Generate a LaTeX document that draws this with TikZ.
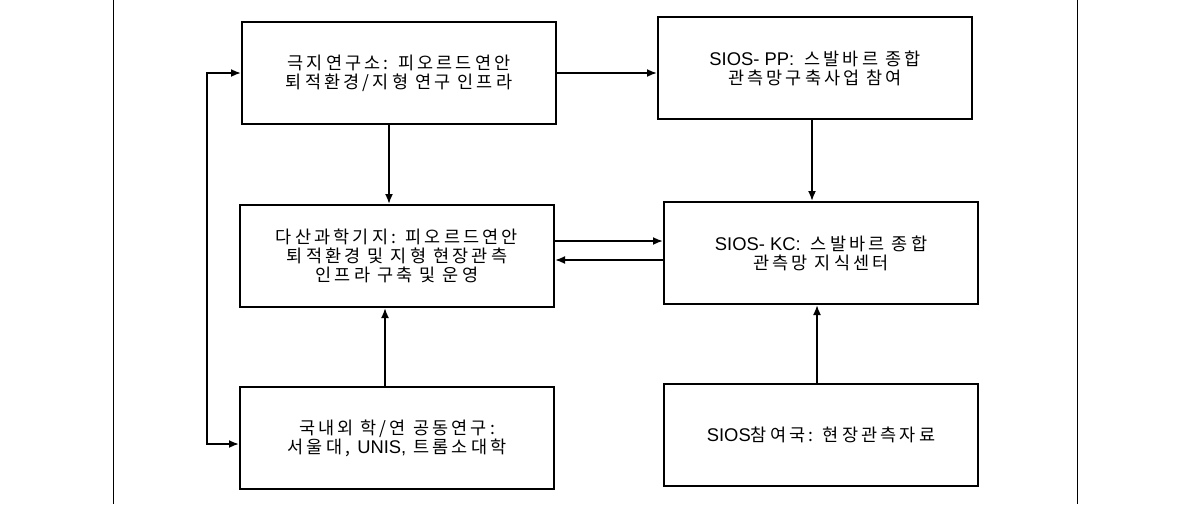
\documentclass[tikz,border=0pt]{standalone}
\usepackage{fontspec}
\setmainfont{Noto Sans CJK KR}[LetterSpace=18]
\newfontfamily\latn{Liberation Sans}[Scale=1.05]
\usetikzlibrary{arrows.meta}
\newcommand\tightskip{\lineskiplimit=-20pt\relax}
\begin{document}
\begin{tikzpicture}[x=1pt,y=-1pt,
		boxnode/.style={draw, line width=2pt, minimum width=314pt, minimum height=102pt, align=center, inner sep=0pt, font=\fontsize{17.5}{19}\selectfont\tightskip},
		link/.style={line width=1.8pt, -{Latex[length=10pt,width=8pt]}}]
		\useasboundingbox (0,0) rectangle (1190,504);
		% Rahmen
		\draw [line width=0.8pt] (113,0) -- (113,504);
		\draw [line width=0.8pt] (1077,0) -- (1077,504);
		% linke Spalte
		\node [boxnode] (kopri) at (399,73) {극지연구소: 피오르드연안\\퇴적환경/지형 연구 인프라};
		\node [boxnode] (dasan) at (397,256) {다산과학기지: 피오르드연안\\퇴적환경 및 지형 현장관측\\인프라 구축 및 운영};
		\node [boxnode] (univ) at (397,438) {국내외 학/연 공동연구:\\서울대, {\latn UNIS,} 트롬소대학};
		% rechte Spalte
		\node [boxnode] (siospp) at (815,68) {{\latn SIOS- PP:\ \ }스발바르 종합\\관측망구축사업 참여};
		\node [boxnode] (sioskc) at (821,253) {{\latn SIOS- KC:\ \ }스발바르 종합\\관측망 지식센터};
		\node [boxnode] (member) at (821,435) {{\latn SIOS}참여국: 현장관측자료};
		% Pfeile
		\draw [link] (kopri.east) -- (kopri.east -| siospp.west);
		\draw [link] ([xshift=-10pt]kopri.south) -- ([xshift=-10pt]kopri.south |- dasan.north);
		\draw [link] ([xshift=-3pt]siospp.south) -- ([xshift=-3pt]siospp.south |- sioskc.north);
		\draw [link] ([yshift=15pt]dasan.east) -- ([yshift=15pt]dasan.east -| sioskc.west);
		\draw [link] ([yshift=-7pt]sioskc.west) -- ([yshift=-7pt]sioskc.west -| dasan.east);
		\draw [link] ([xshift=-12pt]univ.north) -- ([xshift=-12pt]univ.north |- dasan.south);
		\draw [link] ([xshift=-4pt]member.north) -- ([xshift=-4pt]member.north |- sioskc.south);
		\draw [link, {Latex[length=10pt,width=8pt]}-{Latex[length=10pt,width=8pt]}] (kopri.west) -- ++(-34,0) |- ([yshift=-6pt]univ.west);
		\end{tikzpicture}
\end{document}
